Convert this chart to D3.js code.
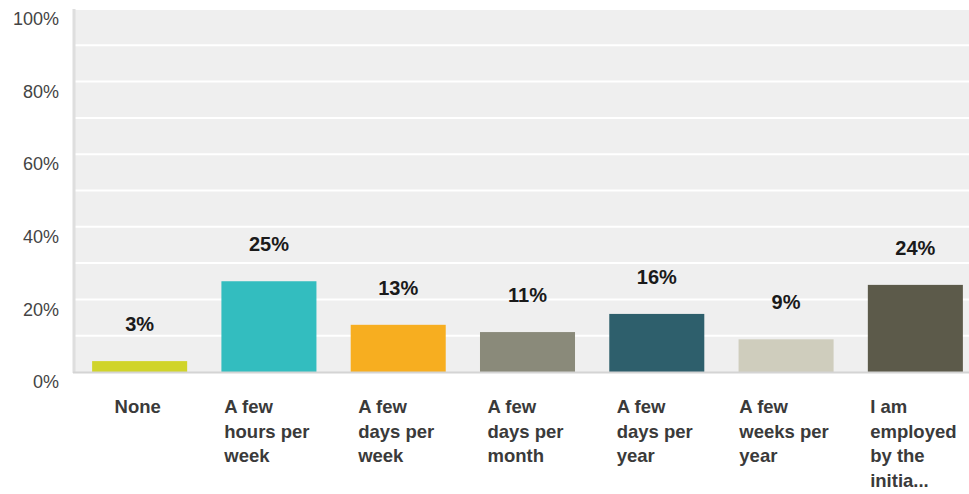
<!DOCTYPE html>
<html>
<head>
<meta charset="utf-8">
<script src="https://cdn.jsdelivr.net/npm/d3@7/dist/d3.min.js"></script>
<style>
  html, body { margin: 0; padding: 0; background: #ffffff; }
  svg { display: block; font-family: "Liberation Sans", Arial, Helvetica, sans-serif; }
</style>
</head>
<body>
<svg id="chart" width="969" height="494"></svg>
<script>
// Survey answers: time commitment
const categories = [
  "None",
  "A few hours per week",
  "A few days per week",
  "A few days per month",
  "A few days per year",
  "A few weeks per year",
  "I am employed by the initia..."
];
const percents = [3, 25, 13, 11, 16, 9, 24];
const barColors = ["#d0d42a", "#33bdbf", "#f7ae20", "#8a8a7a", "#2e5f6c", "#cfcdbd", "#5c5a4a"];
const yTickValues = [0, 20, 40, 60, 80, 100];
const yTickLabels = ["0%", "20%", "40%", "60%", "80%", "100%"];

const svg = d3.select("#chart");
const plot = { left: 75, right: 980, top: 9, bottom: 372 };

const x = d3.scaleBand()
  .domain(categories)
  .range([plot.left, plot.right])
  .paddingInner(0.265)
  .paddingOuter(0.1325);

const y = d3.scaleLinear()
  .domain([0, 100])
  .range([plot.bottom, plot.top]);

// plot background
svg.append("rect")
  .attr("x", plot.left).attr("y", plot.top)
  .attr("width", plot.right - plot.left)
  .attr("height", plot.bottom - plot.top)
  .attr("fill", "#efefef");

// white gridlines every 10%
svg.append("g")
  .selectAll("line")
  .data(d3.range(10, 101, 10))
  .join("line")
  .attr("x1", plot.left).attr("x2", plot.right)
  .attr("y1", d => y(d)).attr("y2", d => y(d))
  .attr("stroke", "#ffffff")
  .attr("stroke-width", 2);

// left axis rule
svg.append("line")
  .attr("x1", plot.left - 1).attr("x2", plot.left - 1)
  .attr("y1", plot.top).attr("y2", plot.bottom + 1)
  .attr("stroke", "#dedede")
  .attr("stroke-width", 3);

// bars
svg.append("g")
  .selectAll("rect")
  .data(categories)
  .join("rect")
  .attr("x", d => x(d))
  .attr("width", x.bandwidth())
  .attr("y", (d, i) => y(percents[i]))
  .attr("height", (d, i) => y(0) - y(percents[i]))
  .attr("fill", (d, i) => barColors[i]);

// bottom axis rule
svg.append("line")
  .attr("x1", plot.left - 2).attr("x2", plot.right)
  .attr("y1", plot.bottom + 0.5).attr("y2", plot.bottom + 0.5)
  .attr("stroke", "#d4d4d4")
  .attr("stroke-width", 2);

// value labels above bars
svg.append("g")
  .selectAll("text")
  .data(categories)
  .join("text")
  .attr("x", d => x(d) + x.bandwidth() / 2)
  .attr("y", (d, i) => y(percents[i]) - 30)
  .attr("text-anchor", "middle")
  .attr("font-size", "20px")
  .attr("font-weight", "bold")
  .attr("fill", "#1a1a1a")
  .text((d, i) => percents[i] + "%");

// y axis labels
const yAxis = d3.axisLeft(y)
  .tickValues(yTickValues)
  .tickFormat((d, i) => yTickLabels[i])
  .tickSize(0)
  .tickPadding(0);

const yg = svg.append("g")
  .attr("transform", "translate(59,0)")
  .call(yAxis);
yg.select(".domain").remove();
yg.selectAll("text")
  .attr("font-family", "\"Liberation Sans\", Arial, sans-serif")
  .attr("font-size", "18px")
  .attr("fill", "#444")
  .attr("dy", "0.32em")
  .attr("transform", "translate(0,10)");

// wrapped category labels: lines left-aligned, block centred under each bar
const wrapWidth = 90;
const lineHeight = 24.7;
const catGroup = svg.append("g");
categories.forEach((cat, i) => {
  const t = catGroup.append("text")
    .attr("font-size", "18.5px")
    .attr("font-weight", "bold")
    .attr("fill", "#3a3a3a");
  const words = cat.split(" ");
  const lines = [];
  let cur = [];
  const probe = t.append("tspan");
  words.forEach(w => {
    const trial = cur.concat([w]).join(" ");
    probe.text(trial);
    if (cur.length && probe.node().getComputedTextLength() > wrapWidth) {
      lines.push(cur.join(" "));
      cur = [w];
    } else {
      cur.push(w);
    }
  });
  if (cur.length) lines.push(cur.join(" "));
  probe.remove();

  const spans = lines.map((ln, k) =>
    t.append("tspan").attr("y", 413 + k * lineHeight).text(ln));
  const maxW = d3.max(spans, s => s.node().getComputedTextLength());
  const left = x(cat) + x.bandwidth() / 2 - maxW / 2 - 2;
  spans.forEach(s => s.attr("x", left));
});
</script>
</body>
</html>
